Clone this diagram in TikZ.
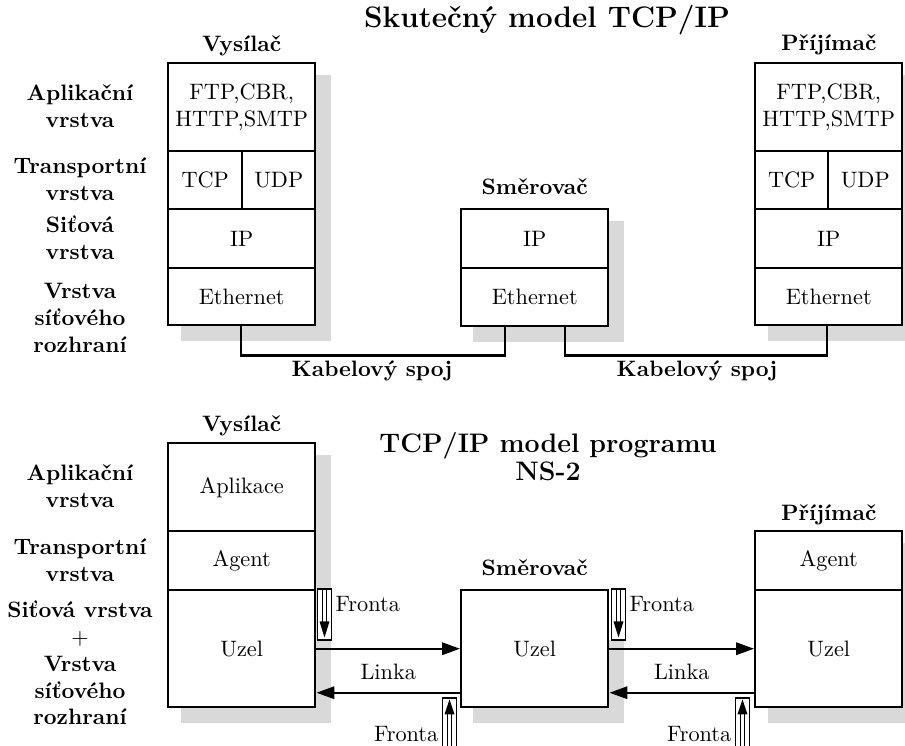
\documentclass[tikz,border=0pt]{standalone}
\usepackage{fontspec}
\usetikzlibrary{arrows.meta,calc}
\newlength{\pxu}\setlength{\pxu}{0.4484pt}
\definecolor{shadowgray}{RGB}{217,217,217}

% small FIFO symbol: double shaft with a filled head
\newcommand\fifoDown[1]{%
  \draw[qline] ($(#1.north)+(-2,0)$) -- ++(0,34) ($(#1.north)+(2,0)$) -- ++(0,34);
  \fill ($(#1.north)+(-5,33)$) -- ++(10,0) -- ($(#1.north)+(0,49)$) -- cycle;}
\newcommand\fifoUp[1]{%
  \draw[qline] ($(#1.north)+(-2,16)$) -- ++(0,50) ($(#1.north)+(2,16)$) -- ++(0,50);
  \fill ($(#1.north)+(-5,17)$) -- ++(10,0) -- ($(#1.north)+(0,2)$) -- cycle;}

\begin{document}
\begin{tikzpicture}[x=0.4484pt, y=-0.4484pt,
  cell/.style={draw, line width=1.1pt, fill=white, inner sep=0pt, anchor=north west, align=center},
  lbl/.style={font=\bfseries, align=center},
  head/.style={font=\bfseries, anchor=base, inner sep=0pt},
  title/.style={font=\large\bfseries, align=center},
  shadowbox/.style={fill=shadowgray},
  wire/.style={line width=1pt},
  link/.style={line width=1pt, -{Triangle[length=8pt,width=5.5pt]}},
  queue/.style={draw, line width=0.5pt, fill=white, minimum width=14\pxu, minimum height=51\pxu, inner sep=0pt},
  qline/.style={line width=0.5pt}]
\useasboundingbox (0,0) rectangle (905,746);

% ---------------- real TCP/IP model ----------------
\node[title, font=\fontsize{13.3}{16}\selectfont\bfseries] (t1) at (547,20) {Skutečný model TCP/IP};

% shadows
\path[shadowbox] (181,75) rectangle (331,341);
\path[shadowbox] (473,221) rectangle (624,342);
\path[shadowbox] (768,75) rectangle (918,341);

% sender stack
\node[cell, minimum width=147\pxu, minimum height=88\pxu] (sApp) at (167,62) {FTP,CBR,\\HTTP,SMTP};
\node[cell, minimum width=74\pxu, minimum height=58\pxu] (sTcp) at (167,150) {TCP};
\node[cell, minimum width=73\pxu, minimum height=58\pxu] (sUdp) at (241,150) {UDP};
\node[cell, minimum width=147\pxu, minimum height=59\pxu] (sIp) at (167,208) {IP};
\node[cell, minimum width=147\pxu, minimum height=57\pxu] (sEth) at (167,267) {Ethernet};

% router stack
\node[cell, minimum width=147\pxu, minimum height=59\pxu] (mIp) at (460,208) {IP};
\node[cell, minimum width=147\pxu, minimum height=58\pxu] (mEth) at (460,267) {Ethernet};

% receiver stack
\node[cell, minimum width=147\pxu, minimum height=88\pxu] (rApp) at (754,62) {FTP,CBR,\\HTTP,SMTP};
\node[cell, minimum width=73\pxu, minimum height=58\pxu] (rTcp) at (754,150) {TCP};
\node[cell, minimum width=74\pxu, minimum height=58\pxu] (rUdp) at (827,150) {UDP};
\node[cell, minimum width=147\pxu, minimum height=59\pxu] (rIp) at (754,208) {IP};
\node[cell, minimum width=147\pxu, minimum height=57\pxu] (rEth) at (754,267) {Ethernet};

\node[head] (hs1) at ($(sApp.north)+(0,-10)$) {Vysílač};
\node[head] (hm1) at ($(mIp.north)+(0,-13)$) {Směrovač};
\node[head] (hr1) at ($(rApp.north)+(0,-11)$) {Příjímač};

% layer names
\node[lbl] (l1) at (80,106) {Aplikační\\vrstva};
\node[lbl] (l2) at (80,179) {Transportní\\vrstva};
\node[lbl] (l3) at (80,238) {Siťová\\vrstva};
\node[lbl] (l4) at (80,318) {Vrstva\\síťového\\rozhraní};

% cables
\draw[wire] (sUdp.west |- sEth.south) -- ++(0,29) -| ($(mEth.south)+(-30,0)$);
\draw[wire] ($(mEth.south)+(30,0)$) -- ++(0,28) -| (rUdp.west |- rEth.south);
\node[lbl] (k1) at (372,371) {Kabelový spoj};
\node[lbl] (k2) at (697,371) {Kabelový spoj};

% ---------------- NS-2 model ----------------
\node[title] (t2) at (548,457) {TCP/IP model programu\\[-1.5pt]NS-2};

\path[shadowbox] (181,455) rectangle (331,723);
\path[shadowbox] (473,602) rectangle (624,723);
\path[shadowbox] (768,543) rectangle (918,723);

\node[cell, minimum width=147\pxu, minimum height=88\pxu] (bApp) at (167,442) {Aplikace};
\node[cell, minimum width=147\pxu, minimum height=59\pxu] (bAgent) at (167,530) {Agent};
\node[cell, minimum width=147\pxu, minimum height=117\pxu] (bUzel) at (167,589) {Uzel};

\node[cell, minimum width=147\pxu, minimum height=117\pxu] (bmUzel) at (460,589) {Uzel};

\node[cell, minimum width=147\pxu, minimum height=59\pxu] (brAgent) at (754,530) {Agent};
\node[cell, minimum width=147\pxu, minimum height=117\pxu] (brUzel) at (754,589) {Uzel};

\node[head] (hs2) at ($(bApp.north)+(0,-10)$) {Vysílač};
\node[head] (hm2) at ($(bmUzel.north)+(0,-14)$) {Směrovač};
\node[head] (hr2) at ($(brAgent.north)+(0,-10)$) {Příjímač};

\node[lbl] (l5) at (80,486) {Aplikační\\vrstva};
\node[lbl] (l6) at (80,560) {Transportní\\vrstva};
\node[lbl] (l7) at (80,663) {Siťová vrstva\\{\mdseries$+$}\\Vrstva\\síťového\\rozhraní};

% links
\draw[link] (bUzel.east) -- (bmUzel.west);
\draw[link] ($(bmUzel.west)+(0,44)$) -- ($(bUzel.east)+(0,44)$);
\draw[link] (bmUzel.east) -- (brUzel.west);
\draw[link] ($(brUzel.west)+(0,44)$) -- ($(bmUzel.east)+(0,44)$);
\node (n1) at ($(bUzel.east)!0.5!(bmUzel.west)+(0,23)$) {Linka};
\node (n2) at ($(bmUzel.east)!0.5!(brUzel.west)+(0,23)$) {Linka};

% queues
\fill[white] (608.5,589) rectangle (626,640);
\node[queue] (q1) at (324.5,614.5) {};
\node[queue] (q3) at (618.5,614.5) {};
\node[queue, minimum height=62\pxu] (q2) at (449.5,729) {};
\node[queue, minimum height=62\pxu] (q4) at (742.5,729) {};
\fifoDown{q1}
\fifoDown{q3}
\fifoUp{q2}
\fifoUp{q4}
\node[anchor=west, inner sep=1pt] (f1) at ($(q1.north east)+(1,16)$) {Fronta};
\node[anchor=west, inner sep=1pt] (f3) at ($(q3.north east)+(1,16)$) {Fronta};
\node[anchor=east, inner sep=1pt] (f2) at ($(q2.north west)+(-1,37)$) {Fronta};
\node[anchor=east, inner sep=1pt] (f4) at ($(q4.north west)+(-1,37)$) {Fronta};
\end{tikzpicture}
\end{document}
